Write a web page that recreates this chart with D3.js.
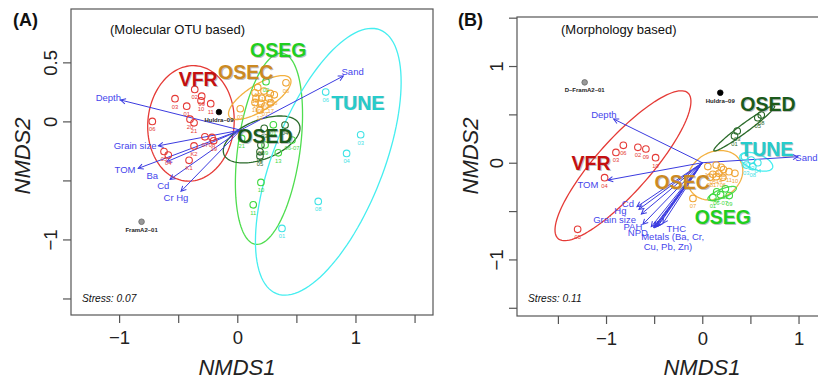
<!DOCTYPE html>
<html><head><meta charset="utf-8">
<script src="https://cdn.jsdelivr.net/npm/d3@7"></script>
<style>
body{margin:0;background:#fff;}
svg{display:block;}
text{font-family:"Liberation Sans",Arial,sans-serif;}
</style></head>
<body><svg id="c" width="818" height="382"></svg>
<script>
// ---------------- DATA: Panel A (Molecular OTU based) ----------------
const aVFR = [["02",-0.360,0.271],["09",-0.301,0.214],["10",-0.307,0.175],["11",-0.225,0.150],["03",-0.527,0.192],
  ["01",-0.428,0.129],["20",-0.400,0.019],["21",-0.366,-0.012],["06",-0.719,0.000],["07",-0.274,-0.131],
  ["08",-0.214,-0.136],["19",-0.200,-0.164],["K2",-0.366,-0.208],["05",-0.620,-0.255],["04",-0.584,-0.285],["K1",-0.408,-0.330]];
const aOSEC = [["06",0.412,0.327],["13",0.173,0.288],["11",0.226,0.257],["18",0.279,0.237],["15",0.150,0.242],["16",0.313,0.225],
  ["14",0.158,0.197],["09",0.206,0.197],["08",0.266,0.197],["17",0.283,0.158],["10",0.150,0.161],["05",0.201,0.153],
  ["07",0.234,0.130],["12",0.190,0.096],["03",0.025,0.107]];
const aOSEG = [["02",0.243,0.336],["01",0.305,-0.029],["06-07",0.463,-0.158],["13",0.347,-0.266],["10",0.200,-0.517],
  ["11",0.135,-0.707],["21",0.037,-0.144],["09",0.235,-0.200]];
const aOSED = [["03",0.228,-0.059],["04",0.404,-0.031],["08",0.200,-0.201],["02",0.192,-0.258],["05",0.192,-0.294]];
const aTUNE = [["06",0.748,0.248],["03",1.044,-0.113],["04",0.925,-0.271],["08",0.685,-0.678],["01",0.378,-0.907]];
const aRef = [["Huldra\u201309",-0.155,0.079,"#000"],["FramA2\u201301",-0.810,-0.850,"#999"]];
// ellipses: group, centre x, centre y, semi-major, semi-minor, angle (deg)
const aEll = [["VFR",-0.392,-0.017,0.49,0.365,85],["OSEC",0.190,0.202,0.304,0.11,32],["OSEG",0.268,-0.232,0.817,0.263,82],
  ["OSED",0.206,-0.153,0.343,0.165,21.7],["TUNE",0.770,-0.342,1.20,0.466,68.6]];
const aArrowOrigin = [0.027,-0.074];
const aVars = ["Depth","Sand","Grain size","TOM","Ba","Cd","Cr Hg"];
const aVecX = [-0.987,0.897,-0.668,-0.838,-0.597,-0.569,-0.476];
const aVecY = [0.181,0.384,-0.207,-0.398,-0.342,-0.492,-0.592];
const aLabX = [-1.091,0.976,-0.865,-0.950,-0.719,-0.626,-0.519];
const aLabY = [0.203,0.426,-0.201,-0.407,-0.461,-0.540,-0.644];
const aGroupLab = [["VFR",-0.331,0.360],["OSEC",0.071,0.420],["OSEG",0.347,0.603],["TUNE",1.019,0.160],["OSED",0.234,-0.125]];

// ---------------- DATA: Panel B (Morphology based) ----------------
const bVFR = [["06",-0.820,0.180],["03",-0.897,0.107],["02",-0.669,0.159],["09",-0.586,0.142],["10",-0.485,0.052],
  ["04",-1.015,-0.155],["05",-1.295,-0.689]];
const bOSEC = [["09",0.145,-0.024],["13",0.197,-0.048],["16",0.058,-0.040],["05",0.110,-0.120],["14",0.173,-0.110],
  ["11",0.277,-0.093],["08",0.080,-0.150],["17",0.145,-0.145],["06",0.214,-0.151],["10",0.339,-0.110],["07",-0.097,-0.369],
  ["15",0.22,-0.07]];
const bOSEG = [["13",0.24,-0.27],["02",0.15,-0.30],["09",0.28,-0.34],["01",0.11,-0.36],["06-07",0.19,-0.33]];
const bOSED = [["03",0.363,0.328],["01",0.335,0.276],["05",0.577,0.465],["08",0.613,0.493]];
const bTUNE = [["06",0.439,0.062],["02",0.509,0.028],["04",0.577,0.0],["08",0.525,-0.041],["03",0.457,-0.024]];
const bRef = [["D\u2013FramA2\u201301",-1.222,0.831,"#999"],["Huldra\u201309",0.187,0.724,"#000"]];
const bEll = [["VFR",-0.824,-0.031,1.011,0.278,48.1],["OSEC",0.135,-0.130,0.30,0.24,30],["OSEG",0.206,-0.318,0.159,0.045,22],
  ["OSED",0.436,0.356,0.391,0.045,36.3],["TUNE",0.561,0.010,0.18,0.08,-20]];
const bArrowOrigin = [0,0];
const bVars = ["Depth","Sand","TOM","Cd","Hg","Grain size","PAH","NPD","Ba","Cr","Cu","Pb","Zn","THC"];
const bVecX = [-0.921,0.993,-0.980,-0.679,-0.658,-0.633,-0.617,-0.530,-0.505,-0.488,-0.472,-0.495,-0.460,-0.409];
const bVecY = [0.452,0.062,-0.179,-0.455,-0.482,-0.530,-0.637,-0.662,-0.668,-0.665,-0.660,-0.670,-0.655,-0.627];
const bLabels = [["Depth",-1.022,0.501],["Sand",1.082,0.056],["TOM",-1.188,-0.220],["Cd",-0.773,-0.420],["Hg",-0.851,-0.489],
  ["Grain size",-0.911,-0.582],["PAH",-0.721,-0.655],["NPD",-0.669,-0.720],["THC",-0.270,-0.675],
  ["Metals (Ba, Cr,",-0.308,-0.768],["Cu, Pb, Zn)",-0.357,-0.869]];
const bGroupLab = [["VFR",-1.155,-0.006],["OSEC",-0.208,-0.196],["OSEG",0.214,-0.565],["TUNE",0.671,0.138],["OSED",0.682,0.607]];

const ticksX = [-1.5,-1,-0.5,0,0.5,1,1.5];
const labelledX = [-1,0,1];
const ticksYA = [0.5,0,-0.5,-1,-1.5];
const labelledYA = [0.5,0,-1];
const ticksYB = [1.5,1,0.5,0,-0.5,-1,-1.5];
const labelledYB = [1,0,-1];

// ---------------- STYLE ----------------
const col = {VFR:"#e53a36",OSEC:"#f0a535",OSEG:"#3fd83f",OSED:"#2a6a2a",TUNE:"#3fe3e6"};
const ellCol = {VFR:"#e53a36",OSEC:"#f3b140",OSEG:"#4fdd4f",OSED:"#2a6a2a",TUNE:"#45eef0"};
const labCol = {VFR:"#c41010",OSEC:"#cc8a22",OSEG:"#1fcf1f",OSED:"#1b5a1b",TUNE:"#26cccc"};
const arrowCol = "#3b3be0";

const svg = d3.select("#c");
svg.append("rect").attr("width",818).attr("height",382).attr("fill","#fff");
const defs = svg.append("defs");
defs.append("marker").attr("id","ah").attr("viewBox","-6 -4 8 8").attr("refX",0).attr("refY",0)
  .attr("markerWidth",8).attr("markerHeight",8).attr("markerUnits","userSpaceOnUse").attr("orient","auto")
  .append("path").attr("d","M-5,-2.6 L0,0 L-5,2.6").attr("fill","none").attr("stroke",arrowCol).attr("stroke-width",1);

function panel(o){
  const {x,y,box,clipId} = o;
  defs.append("clipPath").attr("id",clipId).append("rect")
    .attr("x",box[0]).attr("y",box[1]).attr("width",box[2]-box[0]).attr("height",box[3]-box[1]);
  const g = svg.append("g");
  const plot = g.append("g").attr("clip-path",`url(#${clipId})`);
  const line = d3.line().x(d=>x(d[0])).y(d=>y(d[1]));
  o.ell.forEach(e=>{
    const [grp,cx,cy,a,b,ang] = e; const t = ang*Math.PI/180;
    const pts = d3.range(0,361,3).map(dg=>{const s=dg*Math.PI/180;
      return [cx + a*Math.cos(t)*Math.cos(s) - b*Math.sin(t)*Math.sin(s),
              cy + a*Math.sin(t)*Math.cos(s) + b*Math.cos(t)*Math.sin(s)];});
    plot.append("path").attr("d",line(pts)).attr("fill","none").attr("stroke",ellCol[grp]).attr("stroke-width",1.3);
  });
  o.vx.forEach((vx,i)=>{
    plot.append("line").attr("x1",x(o.origin[0])).attr("y1",y(o.origin[1]))
      .attr("x2",x(vx)).attr("y2",y(o.vy[i])).attr("stroke",arrowCol).attr("stroke-width",1)
      .attr("marker-end","url(#ah)");
  });
  o.arrowLabels.forEach(l=>{
    plot.append("text").attr("x",x(l[1])).attr("y",y(l[2])).attr("text-anchor","middle")
      .attr("dominant-baseline","central").attr("font-size",o.arrowFont).attr("fill","#4545ec").text(l[0]);
  });
  Object.keys(o.groups).forEach(grp=>{
    o.groups[grp].forEach(p=>{
      plot.append("circle").attr("cx",x(p[1])).attr("cy",y(p[2])).attr("r",3.3)
        .attr("fill","none").attr("stroke",col[grp]).attr("stroke-width",1.1);
      plot.append("text").attr("x",x(p[1])).attr("y",y(p[2])+10).attr("text-anchor","middle")
        .attr("font-size",5.8).attr("fill",col[grp]).text(p[0]);
    });
  });
  o.ref.forEach(r=>{
    plot.append("circle").attr("cx",x(r[1])).attr("cy",y(r[2])).attr("r",2.8)
      .attr("fill",r[3]).attr("stroke",r[3]==="#000"?"#000":"#666").attr("stroke-width",0.8);
    plot.append("text").attr("x",x(r[1])).attr("y",y(r[2])+10).attr("text-anchor","middle")
      .attr("font-size",6).attr("font-weight","bold").attr("fill","#222").text(r[0]);
  });
  o.groupLab.forEach(l=>{
    [[0.9,0.9,"#777",0.45],[0,0,labCol[l[0]],1]].forEach(s=>{
      plot.append("text").attr("x",x(l[1])+s[0]).attr("y",y(l[2])+s[1]).attr("text-anchor","middle")
        .attr("dominant-baseline","central").attr("font-family","'Liberation Sans Narrow','Liberation Sans',Arial,sans-serif")
        .attr("font-weight","bold").attr("font-size",19.5).attr("fill",s[2]).attr("opacity",s[3]).text(l[0]);
    });
  });
  g.append("rect").attr("x",box[0]).attr("y",box[1]).attr("width",box[2]-box[0]).attr("height",box[3]-box[1])
    .attr("fill","none").attr("stroke","#555").attr("stroke-width",1.2);
  const fmt = d=>d<0?"\u2212"+Math.abs(d):String(d);
  const ax = g.append("g").attr("transform",`translate(0,${box[3]})`)
    .call(d3.axisBottom(x).tickValues(o.ticksX).tickSize(8).tickFormat(d=>labelledX.includes(d)?fmt(d):""));
  ax.select(".domain").remove();
  ax.selectAll("line").attr("stroke","#555").attr("stroke-width",1.2);
  ax.selectAll("text").attr("y",16).attr("font-size",18.5).attr("fill","#222")
    .attr("font-family","'Liberation Sans',Arial,sans-serif");
  const ay = g.append("g").attr("transform",`translate(${box[0]},0)`)
    .call(d3.axisLeft(y).tickValues(o.ticksY).tickSize(8).tickFormat(d=>o.labY.includes(d)?fmt(d):""));
  ay.select(".domain").remove();
  ay.selectAll("line").attr("stroke","#555").attr("stroke-width",1.2);
  ay.selectAll("text").attr("x",null).attr("dy",null).attr("font-size",18.5).attr("fill","#222")
    .attr("font-family","'Liberation Sans',Arial,sans-serif")
    .attr("text-anchor","middle").attr("transform","translate(-14,0) rotate(-90)");
  g.append("text").attr("x",o.tagX).attr("y",26).attr("font-weight","bold").attr("font-size",18).attr("fill","#111").text(o.tag);
  g.append("text").attr("x",o.subX).attr("y",34).attr("font-family","'DejaVu Sans',sans-serif").attr("font-size",13)
    .attr("fill","#111").text(o.sub);
  g.append("text").attr("x",box[0]+11).attr("y",302).attr("font-family","'DejaVu Sans',sans-serif").attr("font-style","italic")
    .attr("font-size",10.2).attr("fill","#111").text(o.stress);
  g.append("text").attr("x",o.xTitleX).attr("y",375).attr("text-anchor","middle").attr("font-style","italic")
    .attr("font-size",22).attr("fill","#222").text("NMDS1");
  g.append("text").attr("transform",`translate(${o.yTitleX},156) rotate(-90)`).attr("text-anchor","middle")
    .attr("font-style","italic").attr("font-size",22).attr("fill","#222").text("NMDS2");
}

const xA = d3.scaleLinear().domain([-1.407,1.656]).range([71,433]);
const yA = d3.scaleLinear().domain([0.952,-1.64]).range([9,315]);
const xB = d3.scaleLinear().domain([-1.925,1.379]).range([517,835]);
const yB = d3.scaleLinear().domain([1.507,-1.585]).range([17,316]);

panel({x:xA,y:yA,box:[71,9,433,315],clipId:"cA",ell:aEll,origin:aArrowOrigin,vx:aVecX,vy:aVecY,
  arrowLabels:aVars.map((v,i)=>[v,aLabX[i],aLabY[i]]),arrowFont:9.5,
  groups:{VFR:aVFR,OSEC:aOSEC,OSEG:aOSEG,OSED:aOSED,TUNE:aTUNE},ref:aRef,groupLab:aGroupLab,
  ticksX:ticksX.filter(d=>d>=-1),ticksY:ticksYA,labY:labelledYA,tag:"(A)",tagX:13,sub:"(Molecular OTU based)",subX:110,
  stress:"Stress: 0.07",xTitleX:237,yTitleX:30});
panel({x:xB,y:yB,box:[517,17,835,316],clipId:"cB",ell:bEll,origin:bArrowOrigin,vx:bVecX,vy:bVecY,
  arrowLabels:bLabels,arrowFont:9.5,
  groups:{VFR:bVFR,OSEC:bOSEC,OSEG:bOSEG,OSED:bOSED,TUNE:bTUNE},ref:bRef,groupLab:bGroupLab,
  ticksX:ticksX,ticksY:ticksYB,labY:labelledYB,tag:"(B)",tagX:458,sub:"(Morphology based)",subX:561,
  stress:"Stress: 0.11",xTitleX:702,yTitleX:478});
</script></body></html>
